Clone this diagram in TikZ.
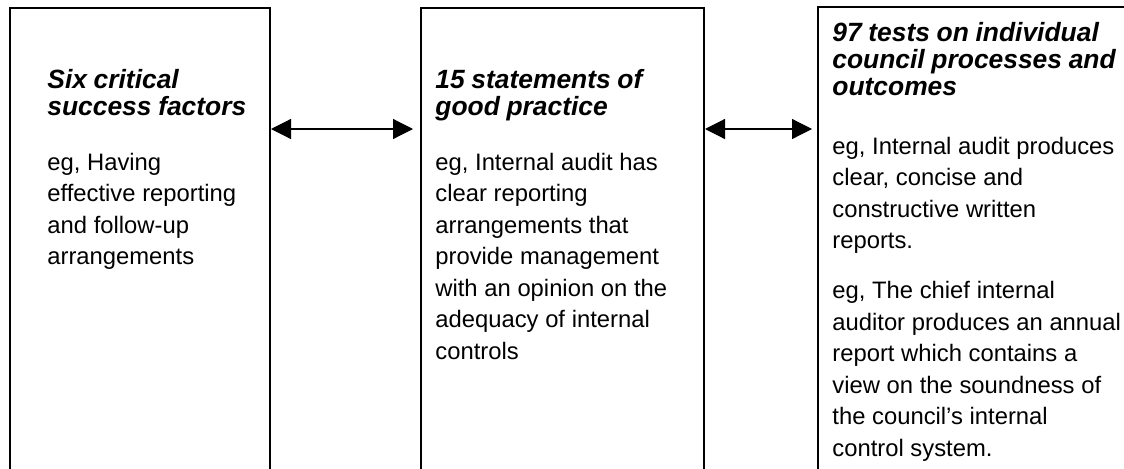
\documentclass[tikz,border=0pt]{standalone}
\usepackage{fontspec}
\setmainfont{Liberation Sans}
\usetikzlibrary{arrows.meta}
\newcommand{\headfont}{\fontsize{13.2}{13.5}\selectfont\bfseries\itshape}
\newcommand{\bodyfont}{\fontsize{11.9}{15.75}\selectfont}

\begin{document}
\begin{tikzpicture}[x=0.5pt,y=0.5pt,>={Triangle[length=10pt,width=10pt]},
  panel/.style={draw,line width=1pt,minimum height=240pt,anchor=north west,inner sep=0pt},
  blurb/.style={anchor=base west,inner sep=0pt,text width=160pt,align=left}]
\useasboundingbox (0,0) rectangle (1124,468);
\clip (0,0) rectangle (1124,468);
% three panels, open at the foot of the page
\node[panel,minimum width=130pt] (crit) at (9,461) {};
\node[panel,minimum width=141.5pt] (stmt) at (420,461) {};
\node[panel,minimum width=165pt] (tests) at (817,462) {};
% texts
\node[blurb] (critx) at (47,380) {{\headfont Six critical\\success factors\par}\vspace{11.75pt}%
  {\bodyfont eg, Having\\effective reporting\\and follow-up\\arrangements\par}};
\node[blurb] (stmtx) at (435,380) {{\headfont 15 statements of\\good practice\par}\vspace{11.75pt}%
  {\bodyfont eg, Internal audit has\\clear reporting\\arrangements that\\provide management\\with an opinion on the\\adequacy of internal\\controls\par}};
\node[blurb] (testsx) at (832,427) {{\headfont 97 tests on individual\\council processes and\\outcomes\par}\vspace{13.75pt}%
  {\bodyfont eg, Internal audit produces\\clear, concise and\\constructive written\\reports.\par\vspace{9.25pt}%
  eg, The chief internal\\auditor produces an annual\\report which contains a\\view on the soundness of\\the council’s internal\\control system.\par}};
% links
\coordinate (mid) at (0,339);
\draw[<->,line width=0.6pt,shorten >=3.5pt] (crit.east |- mid) -- (stmt.west |- mid);
\draw[<->,line width=0.6pt,shorten >=2.5pt] (stmt.east |- mid) -- (tests.west |- mid);
\end{tikzpicture}
\end{document}
